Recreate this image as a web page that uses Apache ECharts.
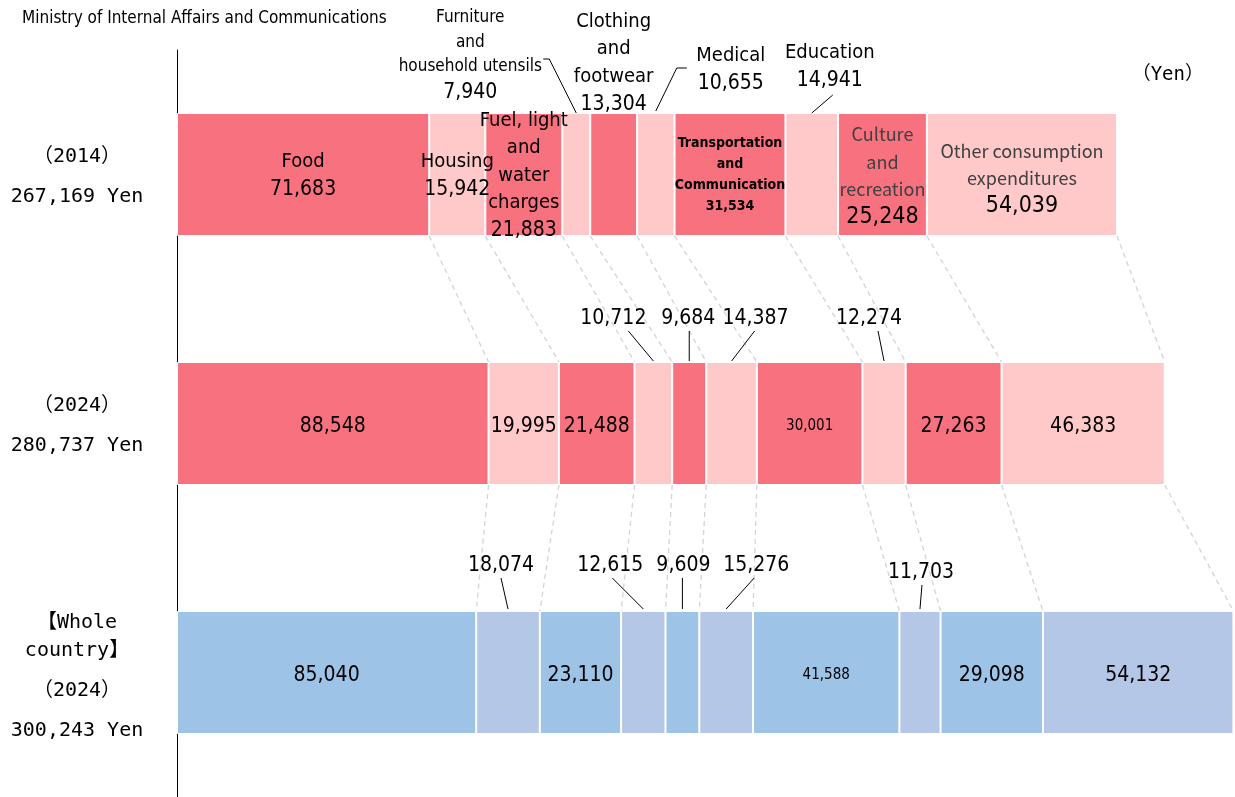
<!DOCTYPE html>
<html><head><meta charset="utf-8">
<script src="https://cdn.jsdelivr.net/npm/echarts@6/dist/echarts.min.js"></script>
<style>html,body{margin:0;padding:0;background:#fff}#c{width:1235px;height:797px}</style>
</head><body><div id="c"></div>
<script>
// ---------- data ----------
const categories = ['Food','Housing','Fuel, light and water charges','Furniture and household utensils','Clothing and footwear','Medical','Transportation and Communication','Education','Culture and recreation','Other consumption expenditures'];
const categoryLabelLines = [['Food'],['Housing'],['Fuel, light','and','water','charges'],['Furniture','and','household utensils'],['Clothing','and','footwear'],['Medical'],['Transportation','and','Communication'],['Education'],['Culture','and','recreation'],['Other consumption','expenditures']];
const rowKeys = ['2014','2024','Whole country 2024'];
const rowYears = ['2014','2024','2024'];
const rowTotals = [267169, 280737, 300243];
const values2014 = [71683,15942,21883,7940,13304,10655,31534,14941,25248,54039];
const values2024 = [88548,19995,21488,10712,9684,14387,30001,12274,27263,46383];
const valuesWhole = [85040,18074,23110,12615,9609,15276,41588,11703,29098,54132];
const sourceText = 'Ministry of Internal Affairs and Communications';
const unitText = '（Yen）';

// ---------- styling / layout ----------
const NARROW = "'Liberation Sans Narrow','DejaVu Sans Condensed',sans-serif";
const MONO = "'DejaVu Sans Mono','Noto Sans CJK JP',monospace";
const CJK = "'Noto Sans CJK JP','Noto Sans',sans-serif";
const BAR_W = 123;
const rowsData = [values2014, values2024, valuesWhole];
const colors = [['#F7717F','#FFC9CA'],['#F7717F','#FFC9CA'],['#9DC3E6','#B4C7E7']];
// label mode per row/category: in = inside, sm = small inside, out = outside w/ leader
const labelMode = [
  ['in','in','in','out','out','out','sm','out','in','in'],
  ['in','in','in','out','out','out','sm','out','in','in'],
  ['in','out','in','out','out','out','sm','out','in','in']
];
const grayNameCats = [8, 9];
// outside labels: offset of text centre and leader polyline, relative to the segment's top centre
const outside = {
  '0-3': {tx:-106, ty:-57, line:[[0,0],[-27,-54],[-33,-54]], big:false},
  '0-4': {tx:0, ty:-50, line:null, big:true},
  '0-5': {tx:75, ty:-43, line:[[0,-2],[21,-45],[31,-45]], big:true},
  '0-7': {tx:18, ty:-46, line:[[0,0],[21,-18]], big:true},
  '1-3': {tx:-40, ty:-43, line:[[0,-1],[-25,-31]]},
  '1-4': {tx:-1, ty:-43, line:[[0,-1],[0,-31]]},
  '1-5': {tx:24, ty:-43, line:[[0,-1],[23,-31]]},
  '1-7': {tx:-15, ty:-43, line:[[0,-1],[-6,-31]]},
  '2-1': {tx:-7, ty:-45, line:[[0,-2],[-7,-33]]},
  '2-3': {tx:-33, ty:-45, line:[[0,-2],[-31,-33]]},
  '2-4': {tx:1, ty:-45, line:[[0,-2],[0,-33]]},
  '2-5': {tx:30, ty:-45, line:[[0,-2],[28,-33]]},
  '2-7': {tx:1, ty:-38, line:[[0,-2],[2,-26]]}
};

const fmt = v => v.toLocaleString('en-US');

function insideLabel(r, c) {
  const v = rowsData[r][c];
  const mode = labelMode[r][c];
  if (mode === 'out') return {show:false};
  if (mode === 'sm') {
    if (r === 0) {
      return {show:true, formatter: categoryLabelLines[c].concat([fmt(v)]).map(l => '{s|' + l + '}').join('\n')};
    }
    return {show:true, offset:[0,3], formatter: '{t|' + fmt(v) + '}'};
  }
  if (r === 0) {
    const gray = grayNameCats.includes(c);
    const nameStyle = gray ? 'g' : 'n';
    const valStyle = gray ? 'w' : 'v';
    return {show:true, offset:[0, c === 9 ? 4 : 1], formatter: categoryLabelLines[c].map(l => '{' + nameStyle + '|' + l + '}').concat(['{' + valStyle + '|' + fmt(v) + '}']).join('\n')};
  }
  return {show:true, offset:[0,3], formatter: '{v|' + fmt(v) + '}'};
}

const richStyles = {
  n: {fontFamily: NARROW, fontSize: 20, color: '#000', lineHeight: 27.5},
  g: {fontFamily: CJK, fontSize: 18, color: '#404040', lineHeight: 27.5},
  v: {fontFamily: NARROW, fontSize: 21, color: '#000', lineHeight: 27.5},
  w: {fontFamily: NARROW, fontSize: 23, color: '#000', lineHeight: 27.5},
  s: {fontFamily: NARROW, fontSize: 14, fontWeight: 'bold', color: '#000', lineHeight: 21},
  t: {fontFamily: NARROW, fontSize: 15, color: '#000'},
  f: {fontFamily: NARROW, fontSize: 17, color: '#000', lineHeight: 24.5}
};

const barSeries = categories.map((name, c) => ({
  name: name,
  type: 'bar',
  stack: 'total',
  barWidth: BAR_W,
  z: 3,
  itemStyle: {borderColor: '#fff', borderWidth: 1},
  label: {show: false, position: 'inside', rich: richStyles},
  data: rowsData.map((arr, r) => ({
    value: arr[c],
    itemStyle: {color: colors[r][c % 2]},
    label: insideLabel(r, c)
  }))
}));

// dashed connector lines between cumulative boundaries of consecutive rows
const connectorData = [];
for (let r = 0; r < rowsData.length - 1; r++) {
  let a = 0, b = 0;
  for (let c = 0; c < categories.length; c++) {
    a += rowsData[r][c]; b += rowsData[r + 1][c];
    connectorData.push([a, r, b, r + 1]);
  }
}

// outside annotation labels
const annKeys = Object.keys(outside);
const annData = annKeys.map(k => {
  const [r, c] = k.split('-').map(Number);
  let start = 0;
  for (let i = 0; i < c; i++) start += rowsData[r][i];
  return [start + rowsData[r][c] / 2, r, c];
});

function annText(r, c) {
  const v = fmt(rowsData[r][c]);
  if (r === 0) {
    const o = outside[r + '-' + c];
    const st = o.big ? 'n' : 'f';
    return categoryLabelLines[c].map(l => '{' + st + '|' + l + '}').concat(['{v|' + v + '}']).join('\n');
  }
  return '{v|' + v + '}';
}

const option = {
  animation: false,
  backgroundColor: '#fff',
  title: [
    {text: sourceText, left: 17, top: 5, textStyle: {fontFamily: NARROW, fontSize: 17, fontWeight: 'normal', color: '#000'}},
    {text: unitText, right: 26, top: 61, textStyle: {fontFamily: MONO, fontSize: 19, fontWeight: 'normal', color: '#000'}}
  ],
  grid: {left: 177, right: 0, top: 50, bottom: 0, containLabel: false},
  xAxis: {type: 'value', min: 0, max: 300700, show: false},
  yAxis: {
    type: 'category', inverse: true, data: rowKeys,
    axisLine: {show: true, lineStyle: {color: '#000', width: 1}},
    axisTick: {show: false},
    axisLabel: {
      margin: 100, align: 'center',
      formatter: (val, idx) => {
        const lines = [];
        if (idx === 2) lines.push('{p13| }', '{a|【Whole}', '{a|country】}', '{p6| }');
        else lines.push('{p5| }');
        lines.push('{b|（' + rowYears[idx] + '）}', '{b|' + fmt(rowTotals[idx]) + ' Yen}');
        return lines.join('\n');
      },
      rich: {
        a: {fontFamily: MONO, fontSize: 20, color: '#000', lineHeight: 28},
        b: {fontFamily: MONO, fontSize: 20, color: '#000', lineHeight: 40},
        p13: {fontSize: 1, lineHeight: 15},
        p6: {fontSize: 1, lineHeight: 6},
        p5: {fontSize: 1, lineHeight: 5}
      }
    }
  },
  series: barSeries.concat([
    {
      type: 'custom', name: 'connectors', z: 1, silent: true,
      encode: {x: [0, 2], y: [1, 3]},
      data: connectorData,
      renderItem: (params, api) => {
        const a = api.coord([api.value(0), api.value(1)]);
        const b = api.coord([api.value(2), api.value(3)]);
        return {type: 'line', shape: {x1: a[0], y1: a[1] + BAR_W / 2, x2: b[0], y2: b[1] - BAR_W / 2},
          style: {stroke: '#d4d4d4', lineWidth: 1.3, lineDash: [5, 4]}};
      }
    },
    {
      type: 'custom', name: 'annotations', z: 5, silent: true,
      encode: {x: 0, y: 1},
      data: annData,
      renderItem: (params, api) => {
        const r = api.value(1), c = api.value(2);
        const o = outside[r + '-' + c];
        const p = api.coord([api.value(0), r]);
        const cx = p[0], top = p[1] - BAR_W / 2;
        const children = [{
          type: 'text', x: cx + o.tx, y: top + o.ty,
          style: {text: annText(r, c), align: 'center', verticalAlign: 'middle', rich: richStyles, fill: '#000'}
        }];
        if (o.line) {
          children.push({type: 'polyline', shape: {points: o.line.map(q => [cx + q[0], top + q[1]])},
            style: {stroke: '#000', lineWidth: 1, fill: null}});
        }
        return {type: 'group', children: children};
      }
    }
  ])
};

const chart = echarts.init(document.getElementById('c'), null, {renderer: 'canvas'});
chart.setOption(option);
</script>
</body></html>
